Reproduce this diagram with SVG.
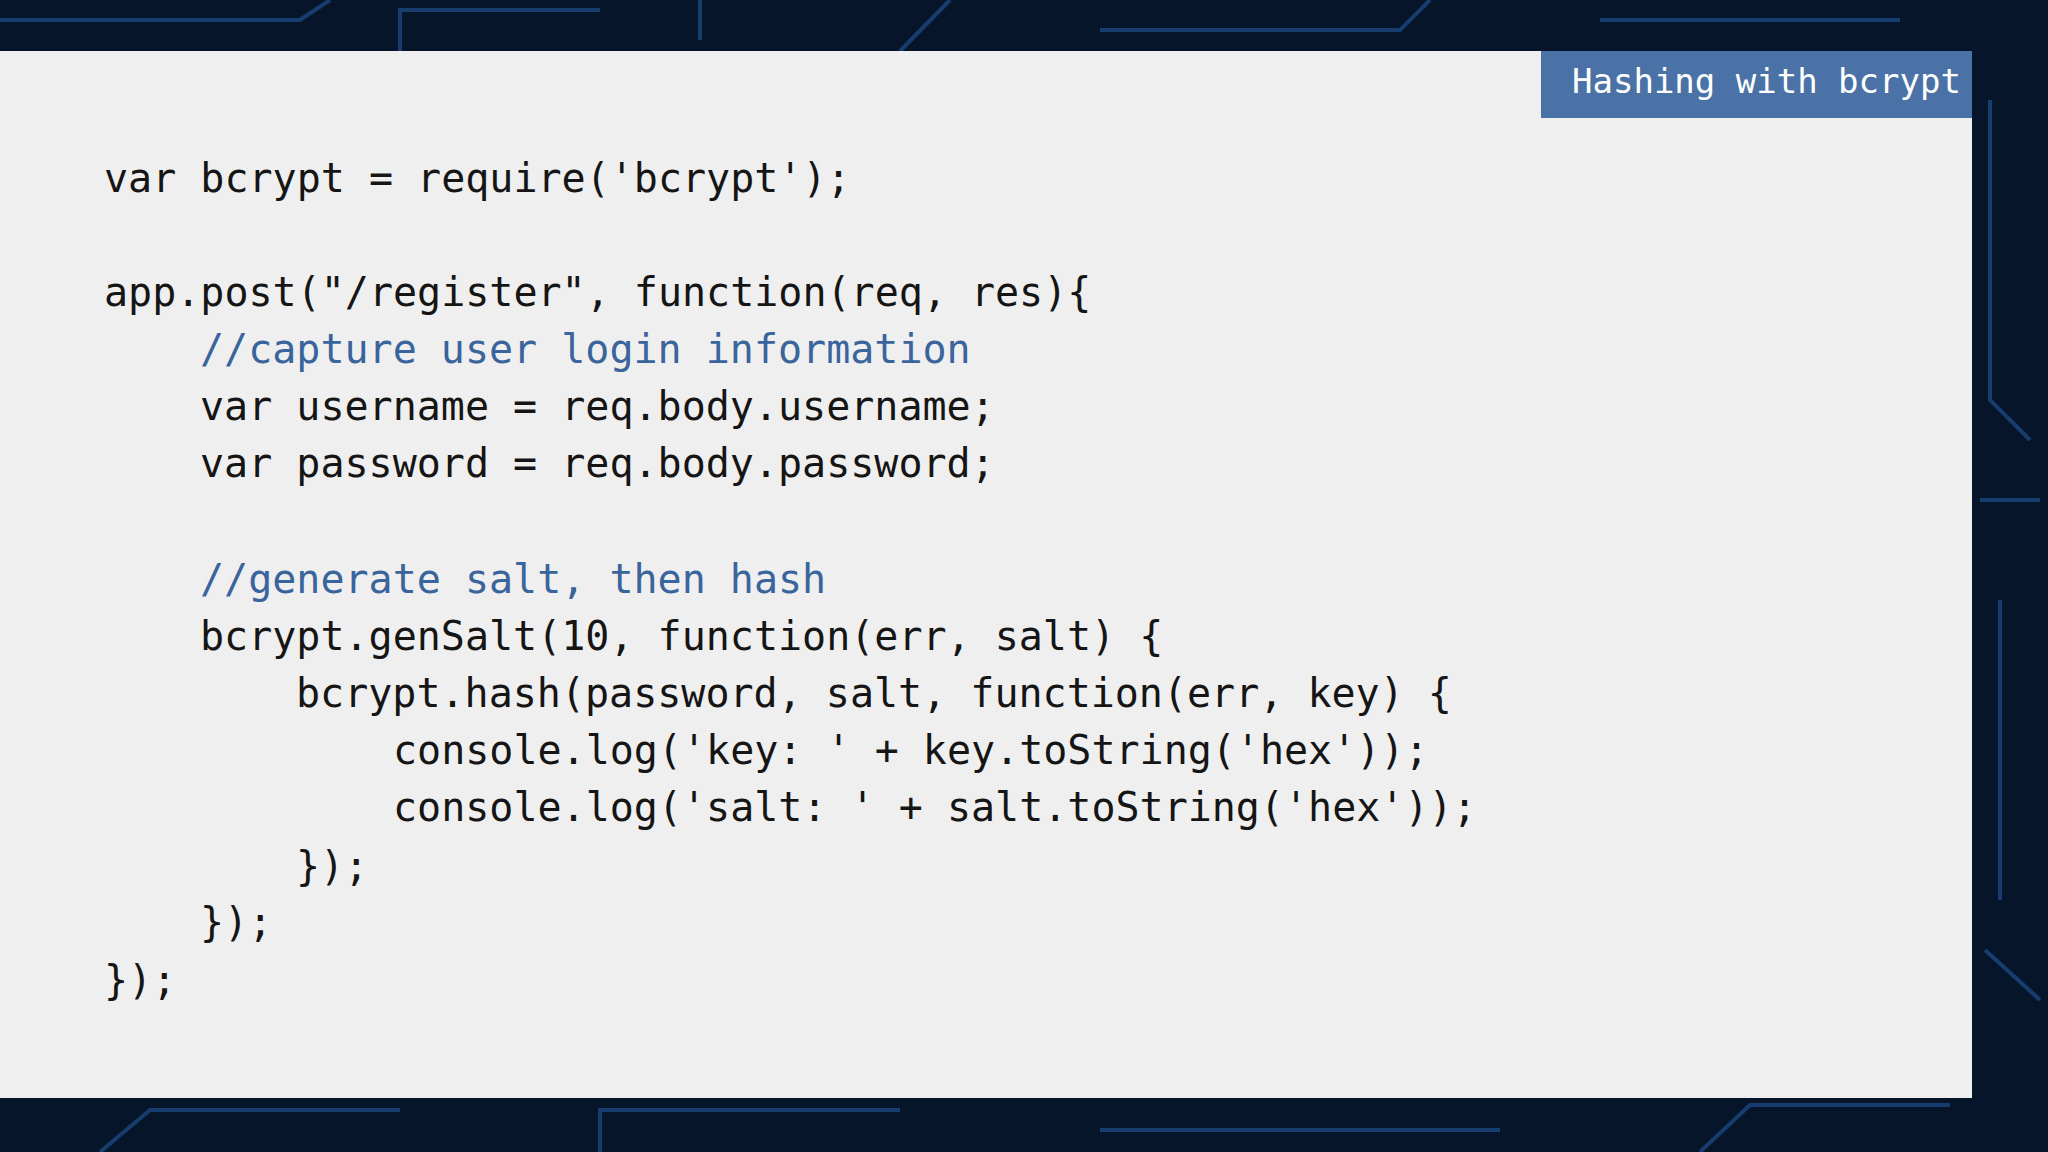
<svg xmlns="http://www.w3.org/2000/svg" width="2048" height="1152" viewBox="0 0 2048 1152">
<style>
.c{font-family:"DejaVu Sans Mono","Liberation Mono",monospace;font-size:40px;fill:#151515;white-space:pre}
.k{fill:#3a649c}
.t{font-family:"DejaVu Sans Mono","Liberation Mono",monospace;font-size:34px;fill:#ffffff}
.w{stroke:#1d4f8a;stroke-width:4;fill:none;opacity:.7}
</style>
<rect width="2048" height="1152" fill="#07152b"/>
<g class="w">
<path d="M0 20 H300 L330 0 M400 51 V10 H600 M700 0 V40 M900 51 L950 0 M1100 30 H1400 L1430 0 M1600 20 H1900 M1990 100 V400 L2030 440 M1980 500 H2040 M2000 600 V900 M1985 950 L2040 1000 M100 1152 L150 1110 H400 M600 1152 V1110 H900 M1100 1130 H1500 M1700 1152 L1750 1105 H1950"/>
</g>
<rect id="panel" x="0" y="51" width="1972" height="1047" fill="#efefef"/>
<g id="title">
<rect x="1541" y="51" width="431" height="67" fill="#4a72a6"/>
<text class="t" x="1572" y="93">Hashing with bcrypt</text>
</g>
<g id="code" xml:space="preserve">
<text class="c" x="104" y="192">var bcrypt = require('bcrypt');</text>
<text class="c" x="104" y="306">app.post("/register", function(req, res){</text>
<text class="c k" x="200" y="363">//capture user login information</text>
<text class="c" x="200" y="420">var username = req.body.username;</text>
<text class="c" x="200" y="477">var password = req.body.password;</text>
<text class="c k" x="200" y="593">//generate salt, then hash</text>
<text class="c" x="200" y="650">bcrypt.genSalt(10, function(err, salt) {</text>
<text class="c" x="296" y="707">bcrypt.hash(password, salt, function(err, key) {</text>
<text class="c" x="393" y="764">console.log('key: ' + key.toString('hex'));</text>
<text class="c" x="393" y="821">console.log('salt: ' + salt.toString('hex'));</text>
<text class="c" x="296" y="880">});</text>
<text class="c" x="200" y="936">});</text>
<text class="c" x="104" y="994">});</text>
</g>
</svg>
